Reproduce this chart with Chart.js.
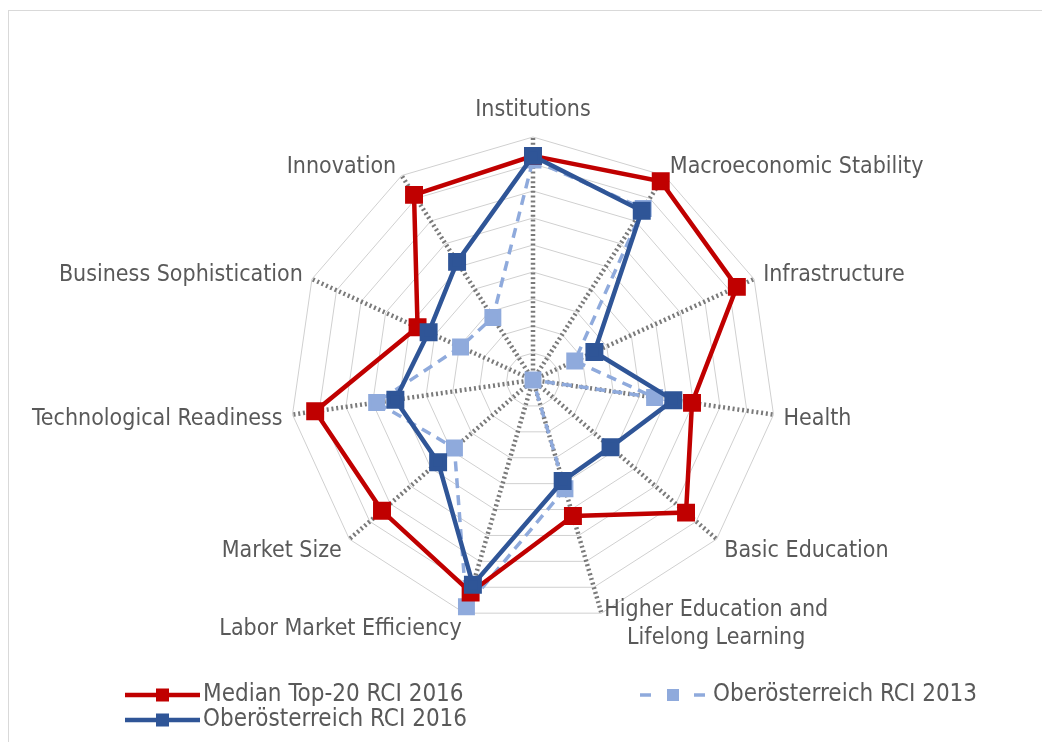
<!DOCTYPE html>
<html>
<head>
<meta charset="utf-8">
<script src="https://cdn.jsdelivr.net/npm/chart.js@4"></script>
<style>
  html, body { margin: 0; padding: 0; background: #fff; overflow: hidden; }
  body { width: 1042px; height: 742px; position: relative; }
  #frame { position: absolute; left: 8px; top: 10px; right: 0; bottom: 0; border-top: 1px solid #d9d9d9; border-left: 1px solid #d9d9d9; }
  #myChart { position: absolute; left: 0; top: 0; }
</style>
</head>
<body>
<div id="frame"></div>
<canvas id="myChart" width="1042" height="742"></canvas>
<script>
const categories = [
  'Institutions', 'Macroeconomic Stability', 'Infrastructure', 'Health', 'Basic Education',
  ['Higher Education and', 'Lifelong Learning'], 'Labor Market Efficiency', 'Market Size',
  'Technological Readiness', 'Business Sophistication', 'Innovation'
];
const median2016 = [8.3, 8.75, 8.3, 5.95, 7.5, 5.25, 8.2, 7.4, 8.15, 4.7, 8.15];
const ooe2016    = [8.3, 7.45, 2.5, 5.25, 3.8, 3.9, 7.9, 4.65, 5.15, 4.25, 5.2];
const ooe2013    = [8.15, 7.55, 1.7, 4.55, 0, 4.2, 8.75, 3.85, 5.85, 2.95, 2.75];
const seriesNames = ['Median Top-20 RCI 2016', 'Oberösterreich RCI 2016', 'Oberösterreich RCI 2013'];
const scaleMax = 9;

const textFont = '23px "DejaVu Sans Condensed", "DejaVu Sans", sans-serif';
const legendFont = '24px "DejaVu Sans Condensed", "DejaVu Sans", sans-serif';
const textColor = '#595959';

// category labels drawn outside the outer ring
const outerLabels = {
  id: 'outerLabels',
  afterDraw(chart) {
    const scale = chart.scales.r;
    const ctx = chart.ctx;
    ctx.save();
    ctx.font = textFont;
    ctx.fillStyle = textColor;
    ctx.textBaseline = 'middle';
    categories.forEach((label, i) => {
      const lines = Array.isArray(label) ? label : [label];
      let pos = scale.getPointPosition(i, scale.drawingArea + 10);
      const dx = pos.x - scale.xCenter;
      const dy = pos.y - scale.yCenter;
      if (Math.abs(dx) < 2) {
        pos = scale.getPointPosition(i, scale.drawingArea + 27);
        ctx.textAlign = 'center';
        ctx.fillText(lines[0], pos.x, pos.y);
        return;
      }
      if (lines.length > 1) {
        const w = Math.max(...lines.map(l => ctx.measureText(l).width));
        const cx = dx > 0 ? pos.x + w / 2 : pos.x - w / 2;
        ctx.textAlign = 'center';
        lines.forEach((l, k) => {
          ctx.fillText(l, cx, pos.y + (k - (lines.length - 1) / 2) * 28 + 1);
        });
        return;
      }
      const shift = dy > 0 ? 3 + 3 * dy / scale.drawingArea : 0;
      ctx.textAlign = dx > 0 ? 'left' : 'right';
      ctx.fillText(lines[0], pos.x, pos.y + shift);
    });
    ctx.restore();
  }
};

// legend in two columns, like the original
const sideLegend = {
  id: 'sideLegend',
  afterDraw(chart) {
    const ctx = chart.ctx;
    const slots = [[125, 695], [125, 720], [640, 695]];
    ctx.save();
    chart.data.datasets.forEach((ds, i) => {
      const [x, y] = slots[i];
      ctx.strokeStyle = ds.borderColor;
      ctx.fillStyle = ds.borderColor;
      ctx.lineWidth = ds.borderWidth;
      if (ds.borderDash) {
        ctx.beginPath(); ctx.moveTo(x, y); ctx.lineTo(x + 11, y); ctx.stroke();
        ctx.beginPath(); ctx.moveTo(x + 54, y); ctx.lineTo(x + 65, y); ctx.stroke();
        ctx.fillRect(x + 27, y - 6, 12, 12);
      } else {
        ctx.beginPath(); ctx.moveTo(x, y); ctx.lineTo(x + 75, y); ctx.stroke();
        ctx.fillRect(x + 31, y - 6.5, 13, 13);
      }
      ctx.font = legendFont;
      ctx.fillStyle = textColor;
      ctx.textAlign = 'left';
      ctx.textBaseline = 'middle';
      ctx.fillText(ds.label, ds.borderDash ? x + 73 : x + 78, y);
    });
    ctx.restore();
  }
};

const ctx = document.getElementById('myChart');

new Chart(ctx, {
  type: 'radar',
  data: {
    labels: categories,
    datasets: [{
      label: seriesNames[0],
      data: median2016,
      borderColor: '#C00000',
      backgroundColor: '#C00000',
      borderWidth: 4.5,
      pointBackgroundColor: '#C00000',
      order: 1
    }, {
      label: seriesNames[1],
      data: ooe2016,
      borderColor: '#2F5597',
      backgroundColor: '#2F5597',
      borderWidth: 4.5,
      pointBackgroundColor: '#2F5597',
      order: 0
    }, {
      label: seriesNames[2],
      data: ooe2013,
      borderColor: '#8FAADC',
      backgroundColor: '#8FAADC',
      borderWidth: 3.5,
      borderDash: [10, 7],
      pointBackgroundColor: '#8FAADC',
      order: 2
    }]
  },
  options: {
    responsive: false,
    animation: false,
    layout: { padding: { left: 290, right: 266, top: 137, bottom: 119 } },
    elements: {
      line: { tension: 0, fill: false },
      point: { pointStyle: 'rect', radius: 9.5, borderWidth: 0, hoverRadius: 9.5 }
    },
    plugins: {
      legend: { display: false },
      tooltip: { enabled: false }
    },
    scales: {
      r: {
        min: 0,
        max: scaleMax,
        ticks: { display: false, stepSize: 1 },
        pointLabels: { display: false },
        grid: { color: '#d0d0d0', lineWidth: 1 },
        angleLines: { color: '#7a7a7a', lineWidth: 4.5, borderDash: [2, 2.8] }
      }
    }
  },
  plugins: [outerLabels, sideLegend]
});
</script>
</body>
</html>
